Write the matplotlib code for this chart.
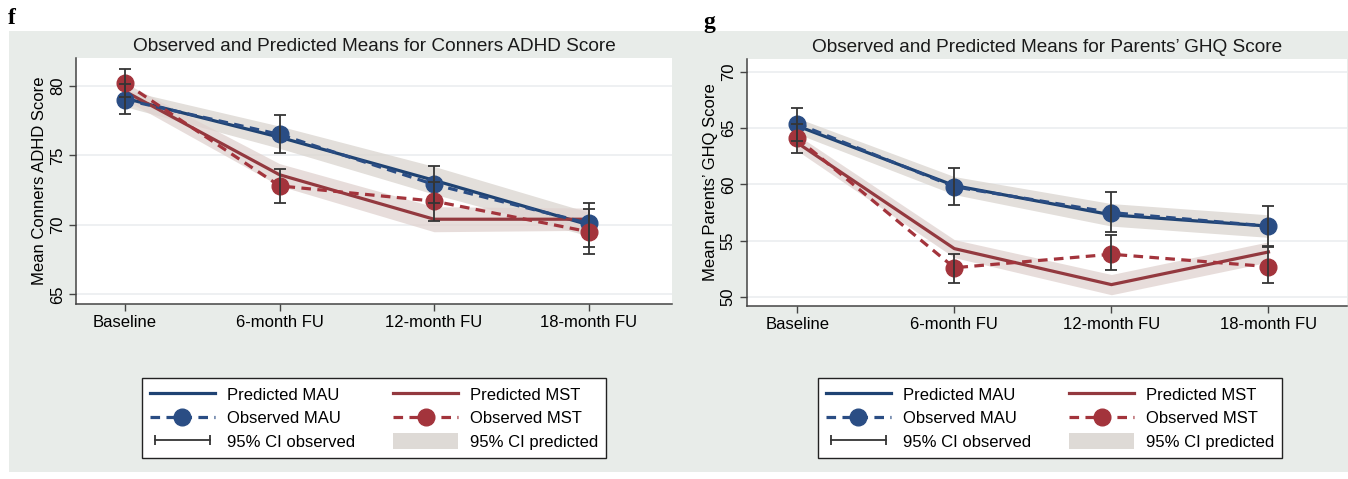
import matplotlib
matplotlib.use("Agg")
import matplotlib.pyplot as plt
import numpy as np
from matplotlib.patches import Rectangle, Patch
from matplotlib.lines import Line2D
from matplotlib.legend_handler import HandlerLine2D

plt.rcParams['font.family'] = ['Liberation Sans', 'DejaVu Sans']

visits = ['Baseline', '6-month FU', '12-month FU', '18-month FU']

# Conners ADHD score
adhd_obs_mau = [79.0, 76.5, 72.9, 70.1]
adhd_obs_mau_lo = [78.0, 75.2, 71.6, 68.4]
adhd_obs_mau_hi = [80.1, 77.9, 74.2, 71.6]
adhd_obs_mst = [80.2, 72.8, 71.7, 69.5]
adhd_obs_mst_lo = [79.2, 71.6, 70.3, 67.9]
adhd_obs_mst_hi = [81.2, 74.0, 73.1, 71.1]
adhd_pred_mau = [79.1, 76.3, 73.2, 70.0]
adhd_pred_mau_lo = [78.5, 75.5, 72.2, 69.2]
adhd_pred_mau_hi = [79.7, 77.1, 74.2, 70.9]
adhd_pred_mst = [79.6, 73.6, 70.4, 70.4]
adhd_pred_mst_lo = [79.0, 72.8, 69.5, 69.6]
adhd_pred_mst_hi = [80.2, 74.4, 71.3, 71.2]

# Parents' GHQ score
ghq_obs_mau = [65.4, 59.8, 57.5, 56.3]
ghq_obs_mau_lo = [63.9, 58.2, 55.8, 54.5]
ghq_obs_mau_hi = [66.8, 61.5, 59.3, 58.1]
ghq_obs_mst = [64.1, 52.6, 53.8, 52.7]
ghq_obs_mst_lo = [62.8, 51.2, 52.4, 51.2]
ghq_obs_mst_hi = [65.4, 53.8, 55.5, 54.4]
ghq_pred_mau = [65.2, 59.9, 57.3, 56.3]
ghq_pred_mau_lo = [64.5, 59.1, 56.3, 55.3]
ghq_pred_mau_hi = [65.9, 60.7, 58.3, 57.3]
ghq_pred_mst = [63.7, 54.3, 51.1, 54.0]
ghq_pred_mst_lo = [63.0, 53.5, 50.2, 53.1]
ghq_pred_mst_hi = [64.4, 55.1, 52.0, 54.9]

NAVY = '#1f4373'
NAVY_MK = '#2a4d84'
MAROON = '#93393f'
MAROON_MK = '#a3343c'
BAND = '#dcd7d2'
CI_COL = '#353535'
BG = '#e8ece9'
FS = 12

W, H = 1348, 479
fig = plt.figure(figsize=(W / 100, H / 100), dpi=100)
fig.patches.append(Rectangle((9 / W, 1 - 472 / H), (W - 9) / W, (472 - 31) / H,
                             transform=fig.transFigure, facecolor=BG,
                             edgecolor='none', zorder=-10))


def px_axes(x0, y0, x1, y1):
    return fig.add_axes([x0 / W, 1 - y1 / H, (x1 - x0) / W, (y1 - y0) / H])


def panel(ax, title, ylabel, yticks, ylim, xlim,
          obs_mau, obs_mau_lo, obs_mau_hi, obs_mst, obs_mst_lo, obs_mst_hi,
          pred_mau, pred_mau_lo, pred_mau_hi, pred_mst, pred_mst_lo, pred_mst_hi):
    x = np.arange(len(visits))
    ax.set_facecolor('white')
    ax.fill_between(x, pred_mau_lo, pred_mau_hi, color=BAND, alpha=0.8, lw=0, zorder=1)
    ax.fill_between(x, pred_mst_lo, pred_mst_hi, color='#e0d2cf', alpha=0.75, lw=0, zorder=1)
    ax.plot(x, pred_mau, color=NAVY, lw=2.3, zorder=3)
    ax.plot(x, pred_mst, color=MAROON, lw=2.3, zorder=3)
    ax.plot(x, obs_mau, color=NAVY_MK, lw=2.3, dashes=(3, 2), zorder=4,
            marker='o', ms=12, mfc=NAVY_MK, mec=NAVY_MK)
    ax.plot(x, obs_mst, color=MAROON_MK, lw=2.3, dashes=(3, 2), zorder=4,
            marker='o', ms=12, mfc=MAROON_MK, mec=MAROON_MK)
    for m, lo, hi in [(obs_mau, obs_mau_lo, obs_mau_hi), (obs_mst, obs_mst_lo, obs_mst_hi)]:
        m = np.array(m)
        ax.errorbar(x, m, yerr=[m - np.array(lo), np.array(hi) - m], fmt='none',
                    ecolor=CI_COL, elinewidth=1.3, capsize=4, capthick=1.3, zorder=5)

    ax.set_xlim(*xlim)
    ax.set_ylim(*ylim)
    ax.set_xticks(x)
    ax.set_xticklabels(visits, fontsize=FS)
    ax.set_yticks(yticks)
    ax.set_yticklabels([str(t) for t in yticks], fontsize=FS, rotation=90, va='center')
    ax.tick_params(axis='both', direction='out', length=5, width=1, color='#444444', pad=3)
    ax.grid(axis='y', color='#ebeef0', lw=1.2, zorder=0)
    ax.set_axisbelow(True)
    for s in ['top', 'right']:
        ax.spines[s].set_visible(False)
    for s in ['left', 'bottom']:
        ax.spines[s].set_color('#444444')
        ax.spines[s].set_linewidth(1.1)
    ax.set_title(title, fontsize=13.7, pad=5, color='#1a1a1a')
    ax.set_ylabel(ylabel, fontsize=FS, labelpad=2)


ax1 = px_axes(76, 58, 672, 304)
panel(ax1, 'Observed and Predicted Means for Conners ADHD Score', 'Mean Conners ADHD Score',
      [65, 70, 75, 80], (64.3, 82.0), (-0.317, 3.54),
      adhd_obs_mau, adhd_obs_mau_lo, adhd_obs_mau_hi,
      adhd_obs_mst, adhd_obs_mst_lo, adhd_obs_mst_hi,
      adhd_pred_mau, adhd_pred_mau_lo, adhd_pred_mau_hi,
      adhd_pred_mst, adhd_pred_mst_lo, adhd_pred_mst_hi)

ax2 = px_axes(747, 59, 1347, 306)
panel(ax2, "Observed and Predicted Means for Parents\u2019 GHQ Score", "Mean Parents\u2019 GHQ Score",
      [50, 55, 60, 65, 70], (49.2, 71.15), (-0.32, 3.5),
      ghq_obs_mau, ghq_obs_mau_lo, ghq_obs_mau_hi,
      ghq_obs_mst, ghq_obs_mst_lo, ghq_obs_mst_hi,
      ghq_pred_mau, ghq_pred_mau_lo, ghq_pred_mau_hi,
      ghq_pred_mst, ghq_pred_mst_lo, ghq_pred_mst_hi)

# same legend under each panel
for ax, cx in [(ax1, 374), (ax2, 1050)]:
    h_pmau = Line2D([], [], color=NAVY, lw=2.3)
    h_omau = Line2D([], [], color=NAVY_MK, lw=2.3, dashes=(3, 2), marker='o', ms=12,
                    mfc=NAVY_MK, mec=NAVY_MK)
    h_ci = Line2D([], [], color=CI_COL, lw=1.3, marker='|', ms=7, mew=1.3)
    h_pmst = Line2D([], [], color=MAROON, lw=2.3)
    h_omst = Line2D([], [], color=MAROON_MK, lw=2.3, dashes=(3, 2), marker='o', ms=12,
                    mfc=MAROON_MK, mec=MAROON_MK)
    h_band = Patch(facecolor='#dedad6', edgecolor='none')
    leg = ax.legend([h_pmau, h_omau, h_ci, h_pmst, h_omst, h_band],
                    ['Predicted MAU', 'Observed MAU', '95% CI observed',
                     'Predicted MST', 'Observed MST', '95% CI predicted'],
                    ncol=2, loc='upper center', bbox_to_anchor=(cx / W, 1 - 378 / H),
                    bbox_transform=fig.transFigure, fontsize=FS, frameon=True,
                    fancybox=False, edgecolor='#222222', facecolor='white', framealpha=1,
                    handlelength=3.9, handleheight=1.1, handletextpad=0.7,
                    columnspacing=2.3, labelspacing=0.4, borderpad=0.5,
                    borderaxespad=0,
                    handler_map={h_ci: HandlerLine2D(numpoints=2)})
    leg.get_frame().set_linewidth(1.0)

fig.text(8 / W, 1 - 24 / H, 'f', fontsize=17, fontweight='bold', family='Liberation Serif')
fig.text(703 / W, 1 - 28 / H, 'g', fontsize=17, fontweight='bold', family='Liberation Serif')

fig.savefig('out.png', dpi=100)
